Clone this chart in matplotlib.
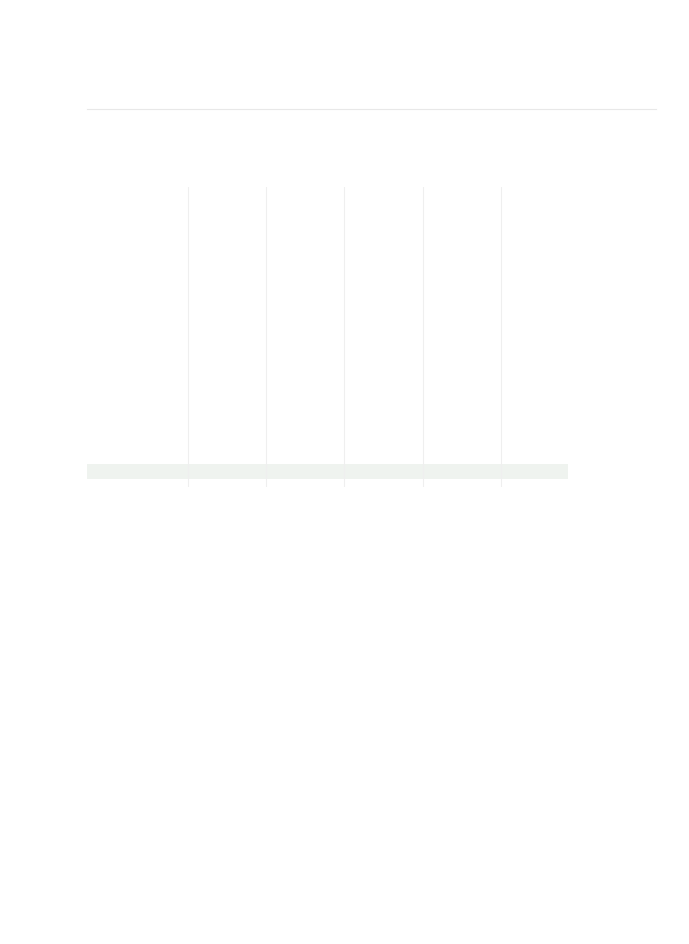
import matplotlib.pyplot as plt
from matplotlib.lines import Line2D

# data
categories = [""]
values = [5.86]
tick_values = [1, 2, 3, 4, 5]
x_min, x_max = -0.29, 6.98

fig = plt.figure(figsize=(6.89, 9.45), dpi=100)
fig.patch.set_facecolor("white")

ax = fig.add_axes([87 / 689, 1 - 488 / 945, 569 / 689, 300 / 945])
ax.barh(range(len(categories)), [v - x_min for v in values], left=x_min,
        height=0.85, color="#eff3ef", zorder=1)

ax.set_xlim(x_min, x_max)
ax.set_ylim(-0.857, 16.23)
ax.set_xticks(tick_values)
ax.set_yticks([])
ax.tick_params(axis="x", length=0, labelbottom=False)
ax.grid(axis="x", color="#efefef", linewidth=0.8, zorder=2)
ax.set_axisbelow(False)
for s in ax.spines.values():
    s.set_visible(False)
ax.patch.set_alpha(0)

# thin rule under the (empty) header
fig.add_artist(Line2D([87 / 689, 656 / 689], [1 - 109.5 / 945] * 2,
                      color="#e8e8e8", linewidth=0.8))

fig.savefig("out.png", dpi=100)
